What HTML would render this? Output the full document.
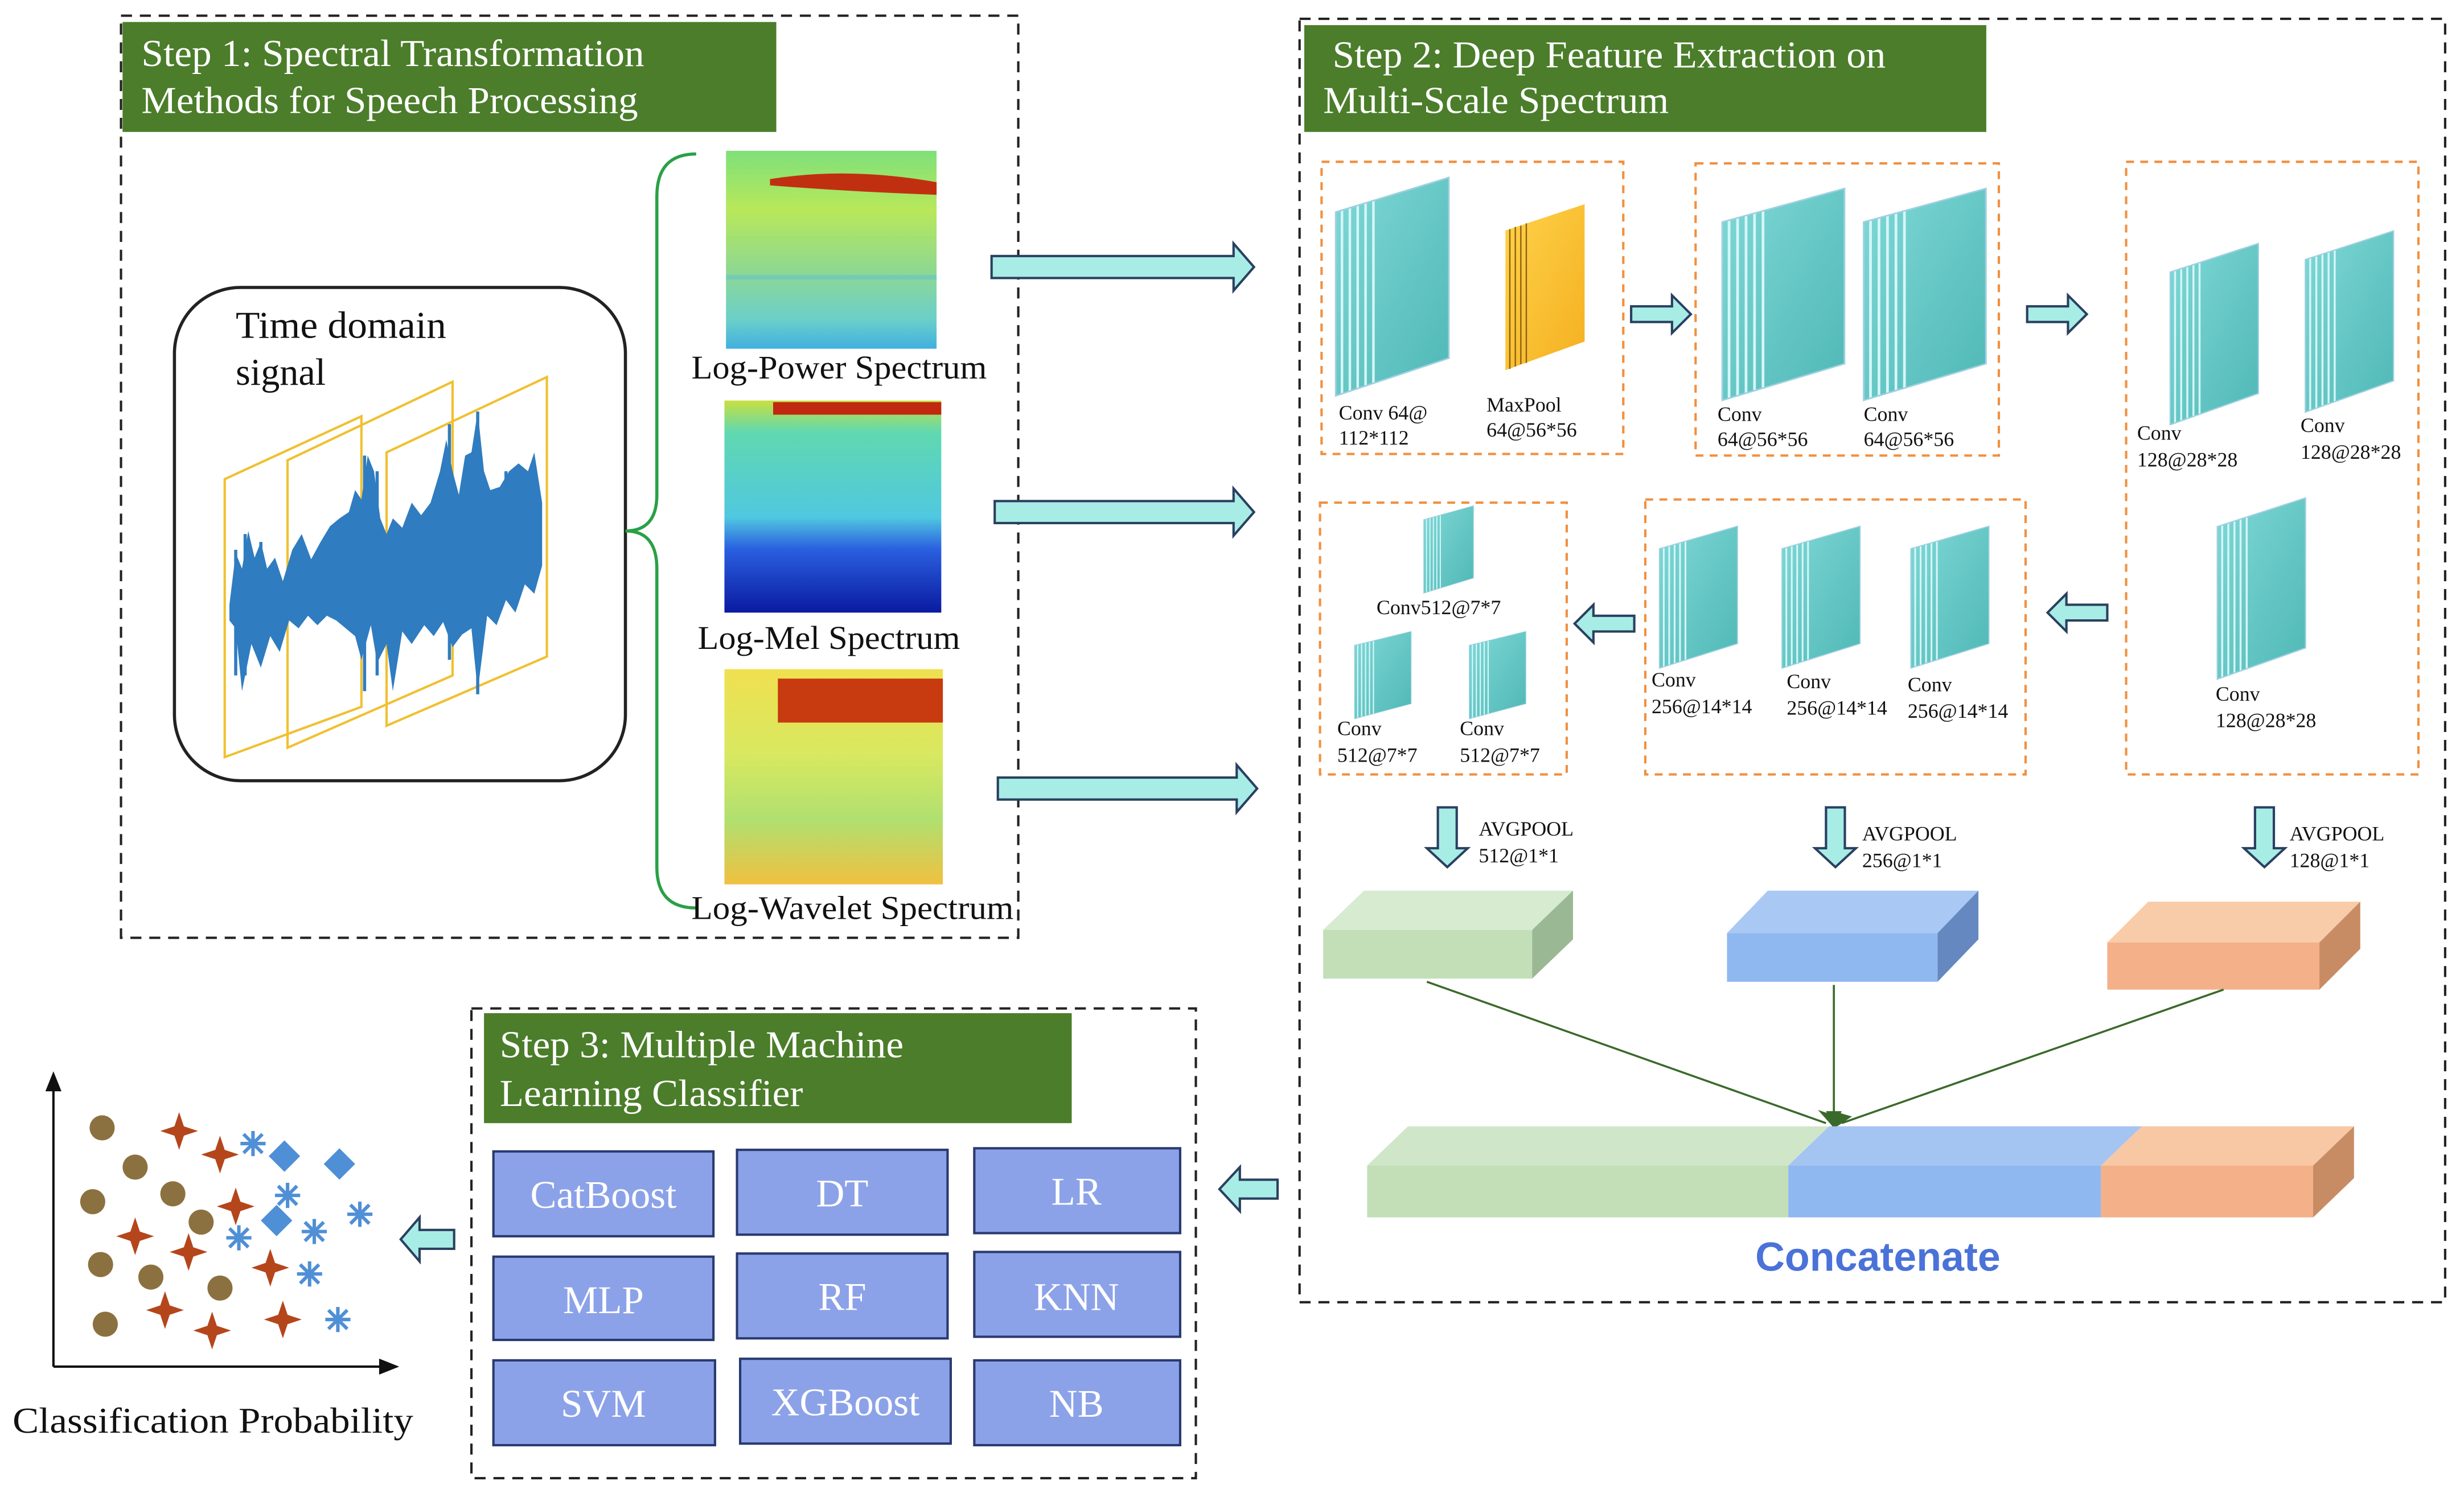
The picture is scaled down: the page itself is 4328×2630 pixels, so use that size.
<!DOCTYPE html>
<html><head><meta charset="utf-8"><style>
html,body{margin:0;padding:0;background:#fff;}
svg{display:block;}
text{font-family:"Liberation Serif",serif;}
</style></head><body>
<svg width="4328" height="2630" viewBox="0 0 1568 953" preserveAspectRatio="none" xmlns="http://www.w3.org/2000/svg">
<defs>
<linearGradient id="teal" x1="0" y1="0" x2="1" y2="1"><stop offset="0" stop-color="#7fd8d6"/><stop offset="1" stop-color="#4fb8b6"/></linearGradient>
<linearGradient id="yel" x1="0" y1="0" x2="1" y2="1"><stop offset="0" stop-color="#ffd24a"/><stop offset="1" stop-color="#f4b020"/></linearGradient>
<linearGradient id="sp1" x1="0" y1="0" x2="0" y2="1"><stop offset="0" stop-color="#7fe07a"/><stop offset="0.3" stop-color="#b8e85a"/><stop offset="0.6" stop-color="#8fd890"/><stop offset="0.85" stop-color="#6cd0c8"/><stop offset="1" stop-color="#40b0e0"/></linearGradient>
<linearGradient id="sp2" x1="0" y1="0" x2="0" y2="1"><stop offset="0" stop-color="#c8e040"/><stop offset="0.15" stop-color="#60d8b0"/><stop offset="0.55" stop-color="#50c8e0"/><stop offset="0.7" stop-color="#2a60e0"/><stop offset="1" stop-color="#0a1aa0"/></linearGradient>
<linearGradient id="sp3" x1="0" y1="0" x2="0" y2="1"><stop offset="0" stop-color="#f0e050"/><stop offset="0.4" stop-color="#d8e860"/><stop offset="0.7" stop-color="#b0e070"/><stop offset="1" stop-color="#f0c040"/></linearGradient>
<g id="conv">
  <polygon points="0,22 72,0 72,115 0,139" fill="url(#teal)"/>
  <g stroke="#d6f6f8" stroke-width="1.6">
   <line x1="4" y1="21" x2="4" y2="138"/><line x1="9" y1="19" x2="9" y2="136"/><line x1="14" y1="18" x2="14" y2="134"/><line x1="19" y1="16" x2="19" y2="133"/><line x1="24" y1="15" x2="24" y2="131"/>
  </g>
  <polygon points="0,22 72,0 72,115 0,139" fill="none" stroke="#9fd0e0" stroke-width="1"/>
</g>
</defs>

<!-- STEP 1 -->
<rect x="77" y="10" width="571" height="587" fill="none" stroke="#222" stroke-width="1.5" stroke-dasharray="7,5"/>
<rect x="78" y="14" width="416" height="70" fill="#4b7d2a"/>
<text x="90" y="42" font-size="24" fill="#fff" textLength="320" lengthAdjust="spacingAndGlyphs">Step 1: Spectral Transformation</text>
<text x="90" y="72" font-size="24" fill="#fff" textLength="316" lengthAdjust="spacingAndGlyphs">Methods for Speech Processing</text>

<rect x="111" y="183" width="287" height="314" rx="42" fill="none" stroke="#222" stroke-width="2"/>
<text x="150" y="215" font-size="24" fill="#111" textLength="134" lengthAdjust="spacingAndGlyphs">Time domain</text>
<text x="150" y="245" font-size="24" fill="#111">signal</text>
<g fill="none" stroke="#f0c030" stroke-width="1.5">
<polygon points="143,305 230,265 230,450 143,482"/>
<polygon points="183,293 288,243 288,430 183,476"/>
<polygon points="246,288 348,240 348,418 246,462"/>
</g>
<path d="M146,385 L150,352 154,362 158,338 162,355 166,345 170,362 175,355 180,370 186,350 192,340 198,356 204,345 210,335 216,330 222,326 226,312 230,318 234,290 238,300 242,330 246,340 250,330 256,336 262,320 268,328 274,320 280,300 284,280 288,300 292,315 296,290 300,288 304,262 308,300 312,312 318,310 324,300 330,295 336,300 340,288 345,320 345,360 340,378 334,372 328,390 322,382 316,398 310,392 304,440 300,400 294,404 288,412 282,396 276,405 270,398 262,410 256,402 250,440 246,410 240,422 236,398 230,420 226,405 220,400 214,395 208,392 202,398 196,392 190,400 184,395 178,415 172,405 166,425 160,410 154,440 150,400 146,395Z" fill="#2f7cc0"/>
<path d="M156,340 v90 M166,345 v75 M232,290 v150 M240,300 v130 M286,270 v150 M304,262 v180 M322,300 v80 M150,350 v80" stroke="#2f7cc0" stroke-width="2"/>

<path d="M443,98 Q418,98 418,125 L418,315 Q418,338 398,338 Q418,338 418,362 L418,552 Q418,578 443,578" fill="none" stroke="#2aa046" stroke-width="2"/>

<rect x="462" y="96" width="134" height="126" fill="url(#sp1)"/>
<rect x="462" y="150" width="134" height="4" fill="#a0e070" opacity="0.6"/>
<rect x="462" y="175" width="134" height="3" fill="#60c0d0" opacity="0.5"/>
<path d="M490,114 Q540,106 596,116 L596,124 Q540,122 490,118Z" fill="#c03010"/>
<rect x="461" y="255" width="138" height="135" fill="url(#sp2)"/>
<rect x="492" y="256" width="107" height="8" fill="#c02810"/>
<rect x="461" y="426" width="139" height="137" fill="url(#sp3)"/>
<rect x="495" y="432" width="105" height="28" fill="#c83a10"/>
<text x="440" y="241" font-size="21" fill="#111" textLength="188" lengthAdjust="spacingAndGlyphs">Log-Power Spectrum</text>
<text x="444" y="413" font-size="21" fill="#111" textLength="167" lengthAdjust="spacingAndGlyphs">Log-Mel Spectrum</text>
<text x="440" y="585" font-size="21" fill="#111" textLength="205" lengthAdjust="spacingAndGlyphs">Log-Wavelet Spectrum</text>

<g fill="#a8ece6" stroke="#2a4060" stroke-width="1.5">
<polygon points="631,163 785,163 785,155 798,170 785,185 785,177 631,177"/>
<polygon points="633,319 785,319 785,311 798,326 785,341 785,333 633,333"/>
<polygon points="635,495 787,495 787,487 800,502 787,517 787,509 635,509"/>
</g>

<!-- STEP 2 -->
<rect x="827" y="12" width="729" height="817" fill="none" stroke="#222" stroke-width="1.5" stroke-dasharray="7,5"/>
<rect x="830" y="16" width="434" height="68" fill="#4b7d2a"/>
<text x="848" y="43" font-size="24" fill="#fff" textLength="352" lengthAdjust="spacingAndGlyphs">Step 2: Deep Feature Extraction on</text>
<text x="842" y="72" font-size="24" fill="#fff" textLength="220" lengthAdjust="spacingAndGlyphs">Multi-Scale Spectrum</text>

<g fill="none" stroke="#f09040" stroke-width="1.5" stroke-dasharray="5,4">
<rect x="841" y="103" width="192" height="186"/>
<rect x="1079" y="104" width="193" height="186"/>
<rect x="1353" y="103" width="186" height="390"/>
<rect x="1047" y="318" width="242" height="175"/>
<rect x="840" y="320" width="157" height="173"/>
</g>

<use href="#conv" transform="translate(850,113)"/>
<g transform="translate(958,130) scale(0.7,0.76)">
 <polygon points="0,22 72,0 72,115 0,139" fill="url(#yel)"/>
 <g stroke="#8a6010" stroke-width="1.2"><line x1="4" y1="21" x2="4" y2="138"/><line x1="9" y1="19" x2="9" y2="136"/><line x1="14" y1="18" x2="14" y2="134"/><line x1="19" y1="16" x2="19" y2="133"/></g>
</g>
<use href="#conv" transform="translate(1096,120) scale(1.08,0.97)"/>
<use href="#conv" transform="translate(1186,120) scale(1.08,0.97)"/>
<use href="#conv" transform="translate(1381,155) scale(0.78,0.83)"/>
<use href="#conv" transform="translate(1467,147) scale(0.78,0.83)"/>
<use href="#conv" transform="translate(1411,317) scale(0.78,0.83)"/>
<use href="#conv" transform="translate(1056,335) scale(0.69,0.65)"/>
<use href="#conv" transform="translate(1134,335) scale(0.69,0.65)"/>
<use href="#conv" transform="translate(1216,335) scale(0.69,0.65)"/>
<use href="#conv" transform="translate(906,322) scale(0.44,0.4)"/>
<use href="#conv" transform="translate(862,402) scale(0.5,0.4)"/>
<use href="#conv" transform="translate(935,402) scale(0.5,0.4)"/>

<g font-size="13" fill="#111">
<text x="852" y="267">Conv 64@</text><text x="852" y="283">112*112</text>
<text x="946" y="262">MaxPool</text><text x="946" y="278">64@56*56</text>
<text x="1093" y="268">Conv</text><text x="1093" y="284">64@56*56</text>
<text x="1186" y="268">Conv</text><text x="1186" y="284">64@56*56</text>
<text x="1360" y="280">Conv</text><text x="1360" y="297">128@28*28</text>
<text x="1464" y="275">Conv</text><text x="1464" y="292">128@28*28</text>
<text x="1410" y="446">Conv</text><text x="1410" y="463">128@28*28</text>
<text x="1051" y="437">Conv</text><text x="1051" y="454">256@14*14</text>
<text x="1137" y="438">Conv</text><text x="1137" y="455">256@14*14</text>
<text x="1214" y="440">Conv</text><text x="1214" y="457">256@14*14</text>
<text x="876" y="391">Conv512@7*7</text>
<text x="851" y="468">Conv</text><text x="851" y="485">512@7*7</text>
<text x="929" y="468">Conv</text><text x="929" y="485">512@7*7</text>
</g>

<g fill="#a8ece6" stroke="#2a4060" stroke-width="1.5">
<polygon points="1038,195 1064,195 1064,188 1076,200 1064,212 1064,205 1038,205"/>
<polygon points="1290,195 1316,195 1316,188 1328,200 1316,212 1316,205 1290,205"/>
<polygon points="1341,385 1315,385 1315,378 1303,390 1315,402 1315,395 1341,395"/>
<polygon points="1040,392 1014,392 1014,385 1002,397 1014,409 1014,402 1040,402"/>
<polygon points="915,514 927,514 927,540 934,540 921,552 908,540 915,540"/>
<polygon points="1162,514 1174,514 1174,540 1181,540 1168,552 1155,540 1162,540"/>
<polygon points="1435,514 1447,514 1447,540 1454,540 1441,552 1428,540 1435,540"/>
<polygon points="813,751 789,751 789,743 776,757 789,771 789,763 813,763"/>
<polygon points="289,783 267,783 267,775 255,789 267,803 267,795 289,795"/>
</g>
<g font-size="13" fill="#111">
<text x="941" y="532">AVGPOOL</text><text x="941" y="549">512@1*1</text>
<text x="1185" y="535">AVGPOOL</text><text x="1185" y="552">256@1*1</text>
<text x="1457" y="535">AVGPOOL</text><text x="1457" y="552">128@1*1</text>
</g>

<g>
<polygon points="842,592 868,567 1001,567 975,592" fill="#d6ebd0"/><rect x="842" y="592" width="133" height="31" fill="#c2dfb8"/><polygon points="975,592 1001,567 1001,598 975,623" fill="#9ab894"/>
<polygon points="1099,594 1125,567 1259,567 1233,594" fill="#aac8f4"/><rect x="1099" y="594" width="134" height="31" fill="#90b8f0"/><polygon points="1233,594 1259,567 1259,598 1233,625" fill="#6688c0"/>
<polygon points="1341,600 1367,574 1502,574 1476,600" fill="#f8cca8"/><rect x="1341" y="600" width="135" height="30" fill="#f4b088"/><polygon points="1476,600 1502,574 1502,604 1476,630" fill="#c88c64"/>
</g>
<g stroke="#3a6a2a" stroke-width="1.3" fill="#3a6a2a">
<line x1="908" y1="625" x2="1162" y2="715"/><line x1="1167" y1="627" x2="1167" y2="713"/><line x1="1415" y1="630" x2="1172" y2="715"/>
<polygon points="1167,717 1159,708 1165,710"/><polygon points="1167,718 1163,708 1171,708"/><polygon points="1168,717 1170,709 1177,711"/>
</g>
<polygon points="870,742 896,717 1164,717 1138,742" fill="#d0e6c8"/>
<polygon points="1138,742 1164,717 1363,717 1337,742" fill="#a4c4f2"/>
<polygon points="1337,742 1363,717 1498,717 1472,742" fill="#f8c8a4"/>
<rect x="870" y="742" width="268" height="33" fill="#c2dfb8"/>
<rect x="1138" y="742" width="199" height="33" fill="#90b8f0"/>
<rect x="1337" y="742" width="135" height="33" fill="#f4b088"/>
<polygon points="1472,742 1498,717 1498,750 1472,775" fill="#c88c64"/>
<text x="1195" y="809" font-size="26" font-weight="bold" fill="#4a72d8" text-anchor="middle" style="font-family:'Liberation Sans',sans-serif">Concatenate</text>

<!-- STEP 3 -->
<rect x="300" y="642" width="461" height="299" fill="none" stroke="#222" stroke-width="1.5" stroke-dasharray="7,5"/>
<rect x="308" y="645" width="374" height="70" fill="#4b7d2a"/>
<text x="318" y="673" font-size="24" fill="#fff" textLength="257" lengthAdjust="spacingAndGlyphs">Step 3: Multiple Machine</text>
<text x="318" y="704" font-size="24" fill="#fff" textLength="193" lengthAdjust="spacingAndGlyphs">Learning Classifier</text>
<g fill="#8ca2e8" stroke="#2a3a70" stroke-width="1.5">
<rect x="314" y="733" width="140" height="54"/><rect x="469" y="732" width="134" height="54"/><rect x="620" y="731" width="131" height="54"/>
<rect x="314" y="800" width="140" height="53"/><rect x="469" y="798" width="134" height="54"/><rect x="620" y="797" width="131" height="54"/>
<rect x="314" y="866" width="141" height="54"/><rect x="471" y="865" width="134" height="54"/><rect x="620" y="866" width="131" height="54"/>
</g>
<g font-size="25" fill="#fff" text-anchor="middle">
<text x="384" y="769">CatBoost</text><text x="536" y="768">DT</text><text x="685" y="767">LR</text>
<text x="384" y="836">MLP</text><text x="536" y="834">RF</text><text x="685" y="834">KNN</text>
<text x="384" y="902">SVM</text><text x="538" y="901">XGBoost</text><text x="685" y="902">NB</text>
</g>

<g stroke="#111" stroke-width="1.5" fill="#111">
<line x1="34" y1="870" x2="34" y2="690"/><polygon points="34,684 30,694 38,694"/>
<line x1="34" y1="870" x2="245" y2="870"/><polygon points="252,870 242,866 242,874"/>
</g>
<g fill="#8c7140">
<circle cx="65" cy="718" r="8"/><circle cx="86" cy="743" r="8"/><circle cx="59" cy="765" r="8"/><circle cx="110" cy="760" r="8"/><circle cx="128" cy="778" r="8"/><circle cx="64" cy="805" r="8"/><circle cx="96" cy="813" r="8"/><circle cx="140" cy="820" r="8"/><circle cx="67" cy="843" r="8"/>
</g>
<g fill="#b5461c">
<path d="M114,708 l3,9 9,3 -9,3 -3,9 -3,-9 -9,-3 9,-3z"/>
<path d="M140,723 l3,9 9,3 -9,3 -3,9 -3,-9 -9,-3 9,-3z"/>
<path d="M86,775 l3,9 9,3 -9,3 -3,9 -3,-9 -9,-3 9,-3z"/>
<path d="M120,785 l3,9 9,3 -9,3 -3,9 -3,-9 -9,-3 9,-3z"/>
<path d="M150,756 l3,9 9,3 -9,3 -3,9 -3,-9 -9,-3 9,-3z"/>
<path d="M172,795 l3,9 9,3 -9,3 -3,9 -3,-9 -9,-3 9,-3z"/>
<path d="M105,822 l3,9 9,3 -9,3 -3,9 -3,-9 -9,-3 9,-3z"/>
<path d="M135,835 l3,9 9,3 -9,3 -3,9 -3,-9 -9,-3 9,-3z"/>
<path d="M180,828 l3,9 9,3 -9,3 -3,9 -3,-9 -9,-3 9,-3z"/>
</g>
<g fill="#4f8fd6">
<polygon points="181,726 191,736 181,746 171,736"/><polygon points="216,731 226,741 216,751 206,741"/><polygon points="176,767 186,777 176,787 166,777"/>
</g>
<g stroke="#4f8fd6" stroke-width="2.2">
<path d="M161,720 v16 M153,728 h16 M155,722 l12,12 M167,722 l-12,12"/>
<path d="M183,753 v16 M175,761 h16 M177,755 l12,12 M189,755 l-12,12"/>
<path d="M229,765 v16 M221,773 h16 M223,767 l12,12 M235,767 l-12,12"/>
<path d="M152,780 v16 M144,788 h16 M146,782 l12,12 M158,782 l-12,12"/>
<path d="M200,776 v16 M192,784 h16 M194,778 l12,12 M206,778 l-12,12"/>
<path d="M197,803 v16 M189,811 h16 M191,805 l12,12 M203,805 l-12,12"/>
<path d="M215,832 v16 M207,840 h16 M209,834 l12,12 M221,834 l-12,12"/>
</g>
<text x="8" y="912" font-size="23" fill="#111" textLength="255" lengthAdjust="spacingAndGlyphs">Classification Probability</text>
</svg>
</body></html>
